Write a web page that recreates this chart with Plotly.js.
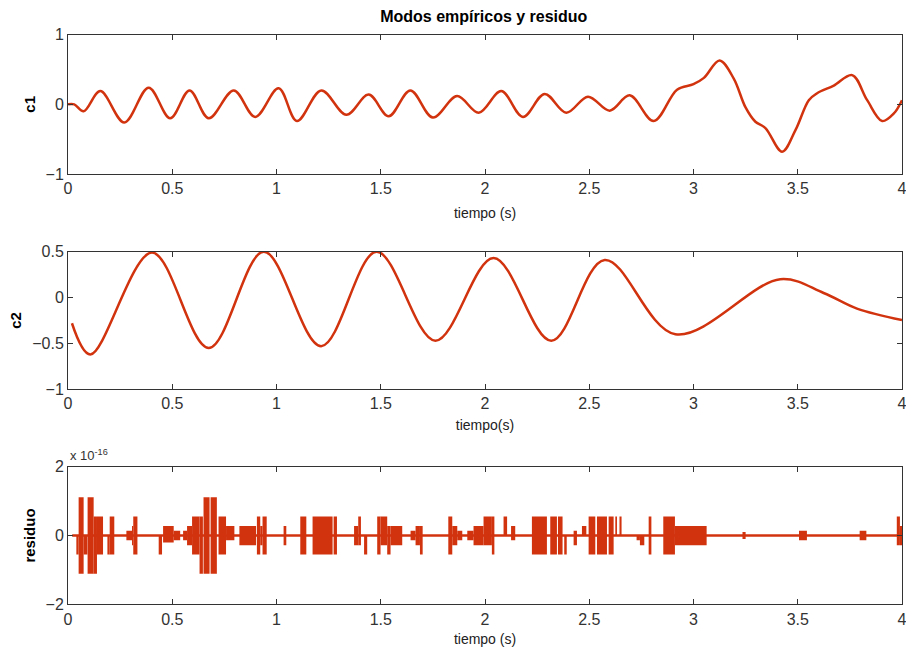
<!DOCTYPE html>
<html>
<head>
<meta charset="utf-8">
<script src="https://cdn.plot.ly/plotly-3.0.1.min.js"></script>
<style>html,body{margin:0;padding:0;background:#fff;}#chart{width:906px;height:651px;}</style>
</head>
<body>
<div id="chart"></div>
<script>
const c1T = [0, 0.03, 0.075, 0.155, 0.27, 0.387, 0.49, 0.583, 0.675, 0.795, 0.898, 1.01, 1.098, 1.215, 1.335, 1.442, 1.538, 1.642, 1.75, 1.866, 1.97, 2.078, 2.182, 2.286, 2.39, 2.494, 2.598, 2.694, 2.809, 2.921, 3.0, 3.05, 3.125, 3.193, 3.249, 3.297, 3.345, 3.425, 3.489, 3.553, 3.593, 3.673, 3.761, 3.833, 3.905, 3.961, 4.0];
const c1V = [0, 0.0, -0.1, 0.19, -0.26, 0.24, -0.2, 0.2, -0.2, 0.2, -0.18, 0.23, -0.24, 0.2, -0.15, 0.14, -0.17, 0.2, -0.19, 0.12, -0.12, 0.19, -0.18, 0.15, -0.12, 0.11, -0.09, 0.13, -0.24, 0.21, 0.29, 0.38, 0.63, 0.37, -0.04, -0.25, -0.34, -0.68, -0.37, 0.06, 0.16, 0.27, 0.42, 0.06, -0.24, -0.13, 0.06];

// ---- c2 (second empirical mode) ----
const c2T = [0.019, 0.107, 0.403, 0.675, 0.939, 1.214, 1.48, 1.762, 2.041, 2.318, 2.574, 2.913, 3.416, 3.624, 3.784, 4.0];
const c2V = [-0.28, -0.62, 0.49, -0.55, 0.5, -0.53, 0.5, -0.47, 0.43, -0.47, 0.41, -0.4, 0.2, 0.05, -0.12, -0.245];

// ---- residuo (units of 1e-16): baseline and bursts [start, end, low, high] ----
const resBaseT = [0.02, 4.0];
const resBaseV = [0, 0];
const resStart = [0.040,0.051,0.075,0.094,0.123,0.139,0.189,0.200,0.280,0.307,0.313,0.435,0.456,0.507,0.552,0.571,0.595,0.631,0.650,0.684,0.722,0.758,0.822,0.906,0.922,0.933,1.034,1.114,1.173,1.274,1.372,1.392,1.420,1.483,1.499,1.531,1.547,1.643,1.667,1.688,1.824,1.843,1.867,1.915,1.945,1.993,2.033,2.089,2.125,2.225,2.313,2.350,2.380,2.425,2.465,2.497,2.537,2.593,2.625,2.645,2.727,2.743,2.785,2.855,2.911,3.235,3.506,3.797,3.975,3.990];
const resEnd   = [0.051,0.075,0.093,0.123,0.139,0.168,0.200,0.222,0.307,0.313,0.333,0.451,0.507,0.538,0.571,0.595,0.631,0.647,0.679,0.714,0.758,0.798,0.902,0.922,0.933,0.953,1.047,1.143,1.269,1.290,1.392,1.405,1.435,1.499,1.531,1.547,1.603,1.667,1.688,1.701,1.843,1.867,1.891,1.945,1.993,2.033,2.045,2.106,2.145,2.297,2.345,2.372,2.392,2.441,2.486,2.529,2.585,2.617,2.633,2.655,2.743,2.764,2.798,2.911,3.063,3.250,3.544,3.829,3.990,4.000];
const resLo    = [-0.555,-1.11,-0.555,-1.11,-1.11,-0.555,-0.555,-0.555,-0.14,-0.28,-0.555,-0.555,-0.2,-0.14,-0.14,-0.28,-0.555,-1.11,-1.11,-1.11,-0.555,-0.14,-0.28,-0.555,-0.28,-0.555,-0.28,-0.555,-0.555,-0.555,-0.28,-0.28,-0.555,-0.555,-0.28,-0.555,-0.28,-0.14,-0.28,-0.555,-0.555,-0.28,-0.14,-0.14,-0.28,-0.28,-0.555,0,-0.14,-0.555,-0.555,-0.555,-0.555,-0.28,0,-0.555,-0.555,-0.555,0,0,-0.14,-0.28,-0.555,-0.555,-0.28,-0.1,-0.14,-0.14,-0.28,-0.28];
const resHi    = [0,1.11,0,1.11,0.555,0.555,0,0.555,0.14,0.28,0.555,0,0.28,0.14,0.14,0.28,0.555,0.555,1.11,1.11,0.555,0.28,0.28,0.555,0.28,0.555,0.28,0.555,0.555,0.555,0.28,0.555,0,0.555,0.555,0.28,0.28,0.14,0.28,0.28,0.555,0.28,0.14,0.14,0.28,0.555,0.555,0.555,0.28,0.555,0.555,0.555,0,0.14,0.28,0.555,0.555,0.555,0.555,0.555,0,0,0.555,0.555,0.28,0.1,0.14,0.14,0.555,0.28];

// ---- tick labels ----
const xTicks = [0, 0.5, 1, 1.5, 2, 2.5, 3, 3.5, 4];
const c1Ticks = [-1, 0, 1];
const c2Ticks = [-1, -0.5, 0, 0.5];
const resTicks = [-2, 0, 2];

const lineColor = '#d2330f';
const axColor = '#333333';
const fontFam = 'Liberation Sans, Arial, Helvetica, sans-serif';

const resX = resStart.map((s, i) => (s + resEnd[i]) / 2);
const resW = resStart.map((s, i) => resEnd[i] - s);
const resH = resLo.map((l, i) => resHi[i] - l);

const traces = [
  {x: c1T, y: c1V, xaxis: 'x', yaxis: 'y', type: 'scatter', mode: 'lines',
   line: {color: lineColor, width: 2.5, shape: 'spline', smoothing: 1}, hoverinfo: 'skip'},
  {x: c2T, y: c2V, xaxis: 'x2', yaxis: 'y2', type: 'scatter', mode: 'lines',
   line: {color: lineColor, width: 2.5, shape: 'spline', smoothing: 1}, hoverinfo: 'skip'},
  {x: resBaseT, y: resBaseV, xaxis: 'x3', yaxis: 'y3', type: 'scatter', mode: 'lines',
   line: {color: lineColor, width: 2.5}, hoverinfo: 'skip'},
  {x: resX, y: resH, base: resLo, width: resW, xaxis: 'x3', yaxis: 'y3', type: 'bar',
   marker: {color: lineColor, line: {width: 0}}, hoverinfo: 'skip'}
];

function xAx(anchor, title, standoff) {
  return {
    anchor: anchor, domain: [0, 1], range: [0, 4], tickvals: xTicks,
    showline: true, mirror: 'ticks', linecolor: axColor, linewidth: 1,
    ticks: 'inside', ticklen: 5, tickcolor: axColor, showgrid: false, zeroline: false,
    tickfont: {family: fontFam, size: 16, color: '#333'},
    ticklabeloverflow: 'allow',
    title: {text: title, font: {family: fontFam, size: 14, color: '#222'}, standoff: standoff},
    automargin: false, fixedrange: true
  };
}
function yAx(anchor, domain, range, ticks, title) {
  return {
    anchor: anchor, domain: domain, range: range, tickvals: ticks,
    showline: true, mirror: 'ticks', linecolor: axColor, linewidth: 1,
    ticks: 'inside', ticklen: 5, tickcolor: axColor, showgrid: false, zeroline: false,
    tickfont: {family: fontFam, size: 16, color: '#333'},
    ticklabeloverflow: 'allow',
    title: {text: title, font: {family: fontFam, size: 15, color: '#000', weight: 'bold'}, standoff: 6},
    automargin: false, fixedrange: true
  };
}

const layout = {
  width: 906, height: 651,
  margin: {l: 68, r: 4, t: 0, b: 0},
  paper_bgcolor: '#fff', plot_bgcolor: '#fff',
  showlegend: false,
  barmode: 'overlay',
  title: {text: 'Modos empíricos y residuo', x: 0.534, xanchor: 'center', xref: 'container',
          y: 0.975, yref: 'container', yanchor: 'middle',
          font: {family: fontFam, size: 16, color: '#000', weight: 'bold'}},
  xaxis: xAx('y', 'tiempo (s)', 11),
  yaxis: yAx('x', [0.7327, 0.9467], [-1, 1], c1Ticks, 'c1'),
  xaxis2: xAx('y2', 'tiempo(s)', 8),
  yaxis2: yAx('x2', [0.4020, 0.6134], [-1, 0.5], c2Ticks, 'c2'),
  xaxis3: xAx('y3', 'tiempo (s)', 7),
  yaxis3: yAx('x3', [0.0717, 0.2831], [-2, 2], resTicks, 'residuo'),
  annotations: [
    {text: 'x 10<sup>-16</sup>', xref: 'paper', yref: 'paper', x: 0, y: 0.2831,
     xanchor: 'left', yanchor: 'bottom', showarrow: false, yshift: 2,
     font: {family: fontFam, size: 13, color: '#333'}}
  ]
};

Plotly.newPlot('chart', traces, layout, {displayModeBar: false, staticPlot: true});
</script>
</body>
</html>
